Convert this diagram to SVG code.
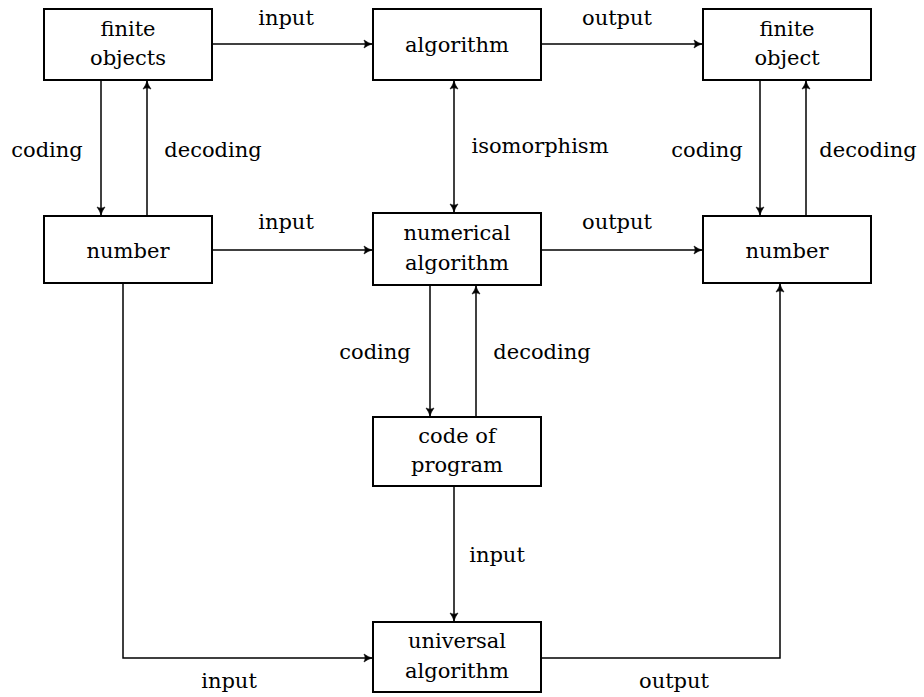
<svg xmlns="http://www.w3.org/2000/svg" width="924" height="697" viewBox="0 0 924 697">
<defs>
<style>
.box{fill:#fff;stroke:#000;stroke-width:2}
.c{fill:none;stroke:#000;stroke-width:1.5}
</style>
<marker id="ah" markerUnits="userSpaceOnUse" markerWidth="12" markerHeight="10" viewBox="-10 -5 12 10" refX="0" refY="0" orient="auto">
<path d="M0,0 Q-4,-1 -8,-4 Q-5.5,0 -8,4 Q-4,1 0,0 Z" fill="#000" stroke="#000" stroke-width="0.6"/>
</marker>
<marker id="ahs" markerUnits="userSpaceOnUse" markerWidth="12" markerHeight="10" viewBox="-10 -5 12 10" refX="0" refY="0" orient="auto-start-reverse">
<path d="M0,0 Q-4,-1 -8,-4 Q-5.5,0 -8,4 Q-4,1 0,0 Z" fill="#000" stroke="#000" stroke-width="0.6"/>
</marker>
</defs>
<rect width="924" height="697" fill="#fff"/>
<g id="connectors">
<line class="c" x1="212" y1="44" x2="372" y2="44" marker-end="url(#ah)"/>
<line class="c" x1="541" y1="44" x2="702" y2="44" marker-end="url(#ah)"/>
<line class="c" x1="101" y1="80" x2="101" y2="215" marker-end="url(#ah)"/>
<line class="c" x1="147" y1="216" x2="147" y2="81" marker-end="url(#ah)"/>
<line class="c" x1="760" y1="80" x2="760" y2="215" marker-end="url(#ah)"/>
<line class="c" x1="806" y1="216" x2="806" y2="81" marker-end="url(#ah)"/>
<line class="c" x1="454" y1="81" x2="454" y2="212" marker-start="url(#ahs)" marker-end="url(#ahs)"/>
<line class="c" x1="212" y1="250" x2="372" y2="250" marker-end="url(#ah)"/>
<line class="c" x1="541" y1="250" x2="702" y2="250" marker-end="url(#ah)"/>
<line class="c" x1="430" y1="285" x2="430" y2="416" marker-end="url(#ah)"/>
<line class="c" x1="476" y1="417" x2="476" y2="286" marker-end="url(#ah)"/>
<line class="c" x1="454" y1="486" x2="454" y2="621" marker-end="url(#ah)"/>
<polyline class="c" points="123,283 123,658 372,658" marker-end="url(#ah)"/>
<polyline class="c" points="541,658 780,658 780,284" marker-end="url(#ah)"/>
</g>
<g id="labels">
<text font-family="DejaVu Serif" font-size="21" text-anchor="middle" x="286" y="25">input</text>
<text font-family="DejaVu Serif" font-size="21" text-anchor="middle" x="617" y="25">output</text>
<text font-family="DejaVu Serif" font-size="21" text-anchor="middle" x="47" y="157">coding</text>
<text font-family="DejaVu Serif" font-size="21" text-anchor="middle" x="213" y="157">decoding</text>
<text font-family="DejaVu Serif" font-size="21" text-anchor="middle" x="540" y="153">isomorphism</text>
<text font-family="DejaVu Serif" font-size="21" text-anchor="middle" x="707" y="157">coding</text>
<text font-family="DejaVu Serif" font-size="21" text-anchor="middle" x="868" y="157">decoding</text>
<text font-family="DejaVu Serif" font-size="21" text-anchor="middle" x="286" y="229">input</text>
<text font-family="DejaVu Serif" font-size="21" text-anchor="middle" x="617" y="229">output</text>
<text font-family="DejaVu Serif" font-size="21" text-anchor="middle" x="375" y="359">coding</text>
<text font-family="DejaVu Serif" font-size="21" text-anchor="middle" x="542" y="359">decoding</text>
<text font-family="DejaVu Serif" font-size="21" text-anchor="middle" x="497" y="562">input</text>
<text font-family="DejaVu Serif" font-size="21" text-anchor="middle" x="229" y="688">input</text>
<text font-family="DejaVu Serif" font-size="21" text-anchor="middle" x="674" y="688">output</text>
</g>
<g id="finite-objects">
<rect class="box" x="44" y="9" width="168" height="71"/>
<text font-family="DejaVu Serif" font-size="21" text-anchor="middle" x="128" y="36">finite</text>
<text font-family="DejaVu Serif" font-size="21" text-anchor="middle" x="128" y="65">objects</text>
</g>
<g id="algorithm">
<rect class="box" x="373" y="9" width="168" height="71"/>
<text font-family="DejaVu Serif" font-size="21" text-anchor="middle" x="457" y="52">algorithm</text>
</g>
<g id="finite-object">
<rect class="box" x="703" y="9" width="168" height="71"/>
<text font-family="DejaVu Serif" font-size="21" text-anchor="middle" x="787" y="36">finite</text>
<text font-family="DejaVu Serif" font-size="21" text-anchor="middle" x="787" y="65">object</text>
</g>
<g id="number-left">
<rect class="box" x="44" y="216" width="168" height="67"/>
<text font-family="DejaVu Serif" font-size="21" text-anchor="middle" x="128" y="258">number</text>
</g>
<g id="numerical-algorithm">
<rect class="box" x="373" y="213" width="168" height="72"/>
<text font-family="DejaVu Serif" font-size="21" text-anchor="middle" x="457" y="240">numerical</text>
<text font-family="DejaVu Serif" font-size="21" text-anchor="middle" x="457" y="270">algorithm</text>
</g>
<g id="number-right">
<rect class="box" x="703" y="216" width="168" height="67"/>
<text font-family="DejaVu Serif" font-size="21" text-anchor="middle" x="787" y="258">number</text>
</g>
<g id="code-of-program">
<rect class="box" x="373" y="417" width="168" height="69"/>
<text font-family="DejaVu Serif" font-size="21" text-anchor="middle" x="457" y="443">code of</text>
<text font-family="DejaVu Serif" font-size="21" text-anchor="middle" x="457" y="472">program</text>
</g>
<g id="universal-algorithm">
<rect class="box" x="373" y="622" width="168" height="70"/>
<text font-family="DejaVu Serif" font-size="21" text-anchor="middle" x="457" y="648">universal</text>
<text font-family="DejaVu Serif" font-size="21" text-anchor="middle" x="457" y="678">algorithm</text>
</g>
</svg>
